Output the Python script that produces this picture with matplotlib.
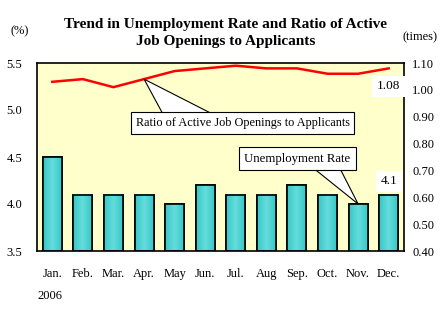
import matplotlib
matplotlib.use("Agg")
import matplotlib.pyplot as plt
import numpy as np
from matplotlib.colors import LinearSegmentedColormap
from matplotlib.patches import Polygon

# data
months = ["Jan.", "Feb.", "Mar.", "Apr.", "May", "Jun.", "Jul.", "Aug", "Sep.", "Oct.", "Nov.", "Dec."]
unemployment = [4.5, 4.1, 4.1, 4.1, 4.0, 4.2, 4.1, 4.1, 4.2, 4.1, 4.0, 4.1]
job_ratio = [1.03, 1.04, 1.01, 1.04, 1.07, 1.08, 1.09, 1.08, 1.08, 1.06, 1.06, 1.08]
left_ticks = [3.5, 4.0, 4.5, 5.0, 5.5]
right_ticks = [0.40, 0.50, 0.60, 0.70, 0.80, 0.90, 1.00, 1.10]

plt.rcParams["font.family"] = ["Liberation Serif", "DejaVu Serif"]
plt.rcParams["font.size"] = 9

fig = plt.figure(figsize=(4.48, 3.12), dpi=100)
ax = fig.add_axes([37 / 448, 61 / 312, 367 / 448, 188 / 312])
ax.set_facecolor("#ffffcc")

x = list(range(len(months)))
bars = ax.bar(x, unemployment, width=0.62, color="#4ed4d0", edgecolor="black", linewidth=1.2, zorder=2)
ymin, ymax = 3.5, 5.5

# horizontal cyan gradient inside each bar (kept inside the visible range)
cmap = LinearSegmentedColormap.from_list("cy", ["#36c8c8", "#66dcdc", "#36c8c8"])
grad = np.linspace(0, 1, 64).reshape(1, -1)
for b in bars:
    x0, top = b.get_x(), b.get_y() + b.get_height()
    im = ax.imshow(grad, cmap=cmap, aspect="auto", zorder=2.5,
                   extent=(x0, x0 + b.get_width(), ymin, top))
    edge = plt.Rectangle((x0, ymin), b.get_width(), top - ymin, fill=False,
                         ec="black", lw=1.2, zorder=2.6)
    ax.add_patch(edge)
ax.set_xlim(-0.5, len(months) - 0.5)
ax.set_ylim(ymin, ymax)

ax.set_yticks(left_ticks)
ax.set_yticklabels(["%.1f" % v for v in left_ticks])
ax.set_xticks(x)
ax.set_xticklabels(months)
ax.tick_params(length=0, pad=10.5)
ax.tick_params(axis="x", pad=12)
for s in ax.spines.values():
    s.set_linewidth(1.2)
    s.set_zorder(4)

ax2 = ax.twinx()
ax2.plot(x, job_ratio, color="#ff0000", linewidth=1.8, zorder=3)
ax2.set_ylim(0.40, 1.10)
ax2.set_yticks(right_ticks)
ax2.set_yticklabels(["%.2f" % v for v in right_ticks])
ax2.tick_params(length=0, pad=6)
for s in ax2.spines.values():
    s.set_visible(False)


def callout(axis, text, point, center, base, size):
    # Excel-style callout: white box plus a wedge pointing at the data point
    to_axes = axis.transData + axis.transAxes.inverted()
    tip = to_axes.transform(point)
    wedge = Polygon([base[0], tip, base[1]], closed=True, transform=axis.transAxes,
                    fc="white", ec="black", lw=0.8, zorder=5)
    axis.add_patch(wedge)
    axis.text(center[0], center[1], text, transform=axis.transAxes, ha="center", va="center",
              fontsize=size, zorder=6,
              bbox=dict(boxstyle="square,pad=0.4", fc="white", ec="black", lw=0.8))


callout(ax2, "Ratio of Active Job Openings to Applicants", (x[3], job_ratio[3]),
        (0.56, 0.681), [(0.351, 0.70), (0.507, 0.70)], 8.8)
callout(ax, "Unemployment Rate", (x[10], unemployment[10]),
        (0.71, 0.492), [(0.741, 0.46), (0.820, 0.46)], 9.2)

ax2.annotate("%.2f" % job_ratio[-1], xy=(x[-1], job_ratio[-1]), xytext=(0, -13),
             textcoords="offset points", ha="center", va="center", fontsize=9.5,
             bbox=dict(boxstyle="square,pad=0.35", fc="white", ec="none"))
ax.annotate("%.1f" % unemployment[-1], xy=(x[-1], unemployment[-1]), xytext=(0, 9.5),
            textcoords="offset points", ha="center", va="center", fontsize=9.5,
            bbox=dict(boxstyle="square,pad=0.35", fc="white", ec="none"))

fig.text(0.503, 1 - 33 / 312, "Trend in Unemployment Rate and Ratio of Active\nJob Openings to Applicants",
         ha="center", va="center", fontsize=11, fontweight="bold", linespacing=1.45)
fig.text(20 / 448, 1 - 31 / 312, "(%)", ha="center", va="center", fontsize=9)
fig.text(419.5 / 448, 1 - 37 / 312, "(times)", ha="center", va="center", fontsize=9)
fig.text(50 / 448, 1 - 296 / 312, "2006", ha="center", va="center", fontsize=9)

fig.savefig("out.png", dpi=100)
